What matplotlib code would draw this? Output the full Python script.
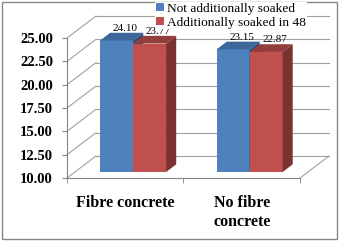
import matplotlib
matplotlib.use("Agg")
import matplotlib.pyplot as plt
from matplotlib.patches import Polygon, Patch, Rectangle

# data
categories = ["Fibre concrete", "No fibre\nconcrete"]
series_names = ["Not additionally soaked", "Additionally soaked in 48"]
not_soaked = [24.10, 23.15]
soaked_48 = [23.77, 22.87]
y_ticks = [10.0, 12.5, 15.0, 17.5, 20.0, 22.5, 25.0]

front_cols = ["#4F81BD", "#C0504D"]
top_cols = ["#3D669A", "#933E3C"]
side_cols = ["#2F4F78", "#7A3130"]
grid_col = "#A0A0A0"
axis_col = "#868686"

plt.rcParams["font.family"] = ["Liberation Serif", "DejaVu Serif"]

W, H = 341, 242
fig = plt.figure(figsize=(W / 100, H / 100), dpi=100)
ax = fig.add_axes([67 / W, 1 - 178 / H, 233 / W, 140 / H])
ax.set_xlim(0, 2)
ax.set_ylim(10, 25)
ax.patch.set_alpha(0)

# depth of the 3d box, in pixels, turned into data units
px_x = 233 / 2.0
px_y = 140 / 15.0
DX = 29 / px_x
DY = 22 / px_y

# back wall grid lines
for t in y_ticks:
    ax.plot([DX, 2 + DX], [t + DY, t + DY], color=grid_col, lw=0.8, zorder=1, clip_on=False)
    # left wall diagonals
    ax.plot([0, DX], [t, t + DY], color=grid_col, lw=0.8, zorder=1, clip_on=False)
# floor right edge
ax.plot([2, 2 + DX], [10, 10 + DY], color=grid_col, lw=0.8, zorder=1, clip_on=False)

# bars
bw = 0.283
f0, f1 = 0.27, 0.62
for s, vals in enumerate([not_soaked, soaked_48]):
    for i, v in enumerate(vals):
        x0 = i + 0.5 - bw + s * bw
        xa, ya = x0 + f0 * DX, 10 + f0 * DY
        ax.bar(xa, v - 10, width=bw, bottom=ya, align="edge", color=front_cols[s],
               linewidth=0, zorder=3 + s, clip_on=False)
        top = [(xa, v + f0 * DY), (xa + bw, v + f0 * DY),
               (x0 + bw + f1 * DX, v + f1 * DY), (x0 + f1 * DX, v + f1 * DY)]
        side = [(xa + bw, ya), (x0 + bw + f1 * DX, 10 + f1 * DY),
                (x0 + bw + f1 * DX, v + f1 * DY), (xa + bw, v + f0 * DY)]
        ax.add_patch(Polygon(top, closed=True, facecolor=top_cols[s], lw=0, zorder=3 + s, clip_on=False))
        ax.add_patch(Polygon(side, closed=True, facecolor=side_cols[s], lw=0, zorder=3 + s, clip_on=False))
        fm = (f0 + f1) / 2
        ax.annotate("%.2f" % v, (x0 + bw / 2 + fm * DX, v + fm * DY),
                    xytext=(2.5, 6), textcoords="offset points", ha="center", va="center",
                    fontsize=8, color="black", zorder=6, annotation_clip=False)

# axes
for sp in ["top", "right"]:
    ax.spines[sp].set_visible(False)
ax.spines["left"].set_color(axis_col)
ax.spines["bottom"].set_color(axis_col)
ax.set_yticks(y_ticks)
ax.set_yticklabels(["%.2f" % t for t in y_ticks], fontsize=10.5, fontweight="bold")
ax.tick_params(axis="y", length=3.6, color=axis_col, pad=6.5)
ax.set_xticks([0.5, 1.5])
ax.set_xticklabels(categories, fontsize=11.5, fontweight="bold", linespacing=1.3)
ax.set_xticks([0, 1, 2], minor=True)
ax.tick_params(axis="x", which="major", length=0, pad=12)
ax.tick_params(axis="x", which="minor", length=3.6, color=axis_col)

handles = [Patch(facecolor=c, edgecolor="none") for c in front_cols]
leg = fig.legend(handles, series_names, loc="upper left", bbox_to_anchor=(155 / W, 1 - 2 / H),
                 frameon=True, fancybox=False, edgecolor="none", facecolor="white", framealpha=1,
                 fontsize=9.6, borderpad=0.05, labelspacing=0.15, handlelength=0.6, handleheight=0.6,
                 handletextpad=0.25, borderaxespad=0)
leg.set_zorder(10)

fig.patches.append(Rectangle((2 / W, 3 / H), 335 / W, 237 / H, transform=fig.transFigure,
                             fill=False, edgecolor=axis_col, lw=1))

fig.savefig("out.png", dpi=100)
